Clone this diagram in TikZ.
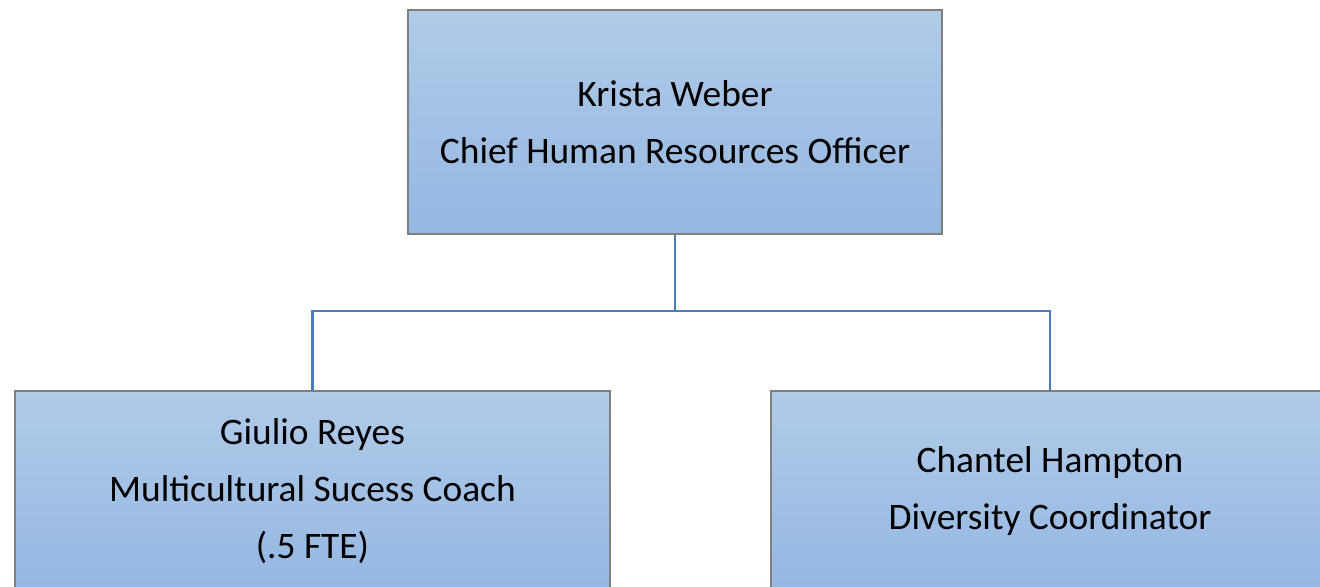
\documentclass[tikz,border=0pt]{standalone}
\usepackage{fontspec}
\setmainfont{Carlito}
\usepackage{tikz}
\usetikzlibrary{positioning,calc,shapes}

\definecolor{boxtop}{HTML}{B1CBE8}
\definecolor{boxbot}{HTML}{94B7E2}
\definecolor{boxedge}{HTML}{7F7F7F}
\definecolor{linkblue}{HTML}{4A7EBB}

\tikzset{
  orgbox/.style={rectangle, draw=boxedge, line width=0.7pt, top color=boxtop, bottom color=boxbot,
                 align=center, inner sep=0pt, font=\fontsize{21.3}{32.4}\selectfont},
  link/.style={draw=linkblue, line width=1.5pt}
}

\begin{document}
\begin{tikzpicture}[x=0.02cm, y=-0.02cm]
  \path[use as bounding box, clip] (0,0) rectangle (1320,587);

  \coordinate (chro_c) at (675, 122);
  \coordinate (coach_c) at (312.5, 491);
  \coordinate (coord_c) at (1050, 491);

  \node[orgbox, minimum width=10.68cm, minimum height=4.48cm] (chro) at (chro_c) {Krista Weber\\Chief Human Resources Officer};
  \node[orgbox, minimum width=11.9cm, minimum height=4cm] (coach) at (coach_c) {Giulio Reyes\\Multicultural Sucess Coach\\(.5 FTE)};
  \node[orgbox, minimum width=11.16cm, minimum height=4cm] (coord) at (coord_c) {Chantel Hampton\\Diversity Coordinator};

  \coordinate (bus) at (675, 311);
  \draw[link] (chro.south) -- (bus);
  \draw[link] (coach.north) |- (bus) -| (coord.north);
\end{tikzpicture}
\end{document}
